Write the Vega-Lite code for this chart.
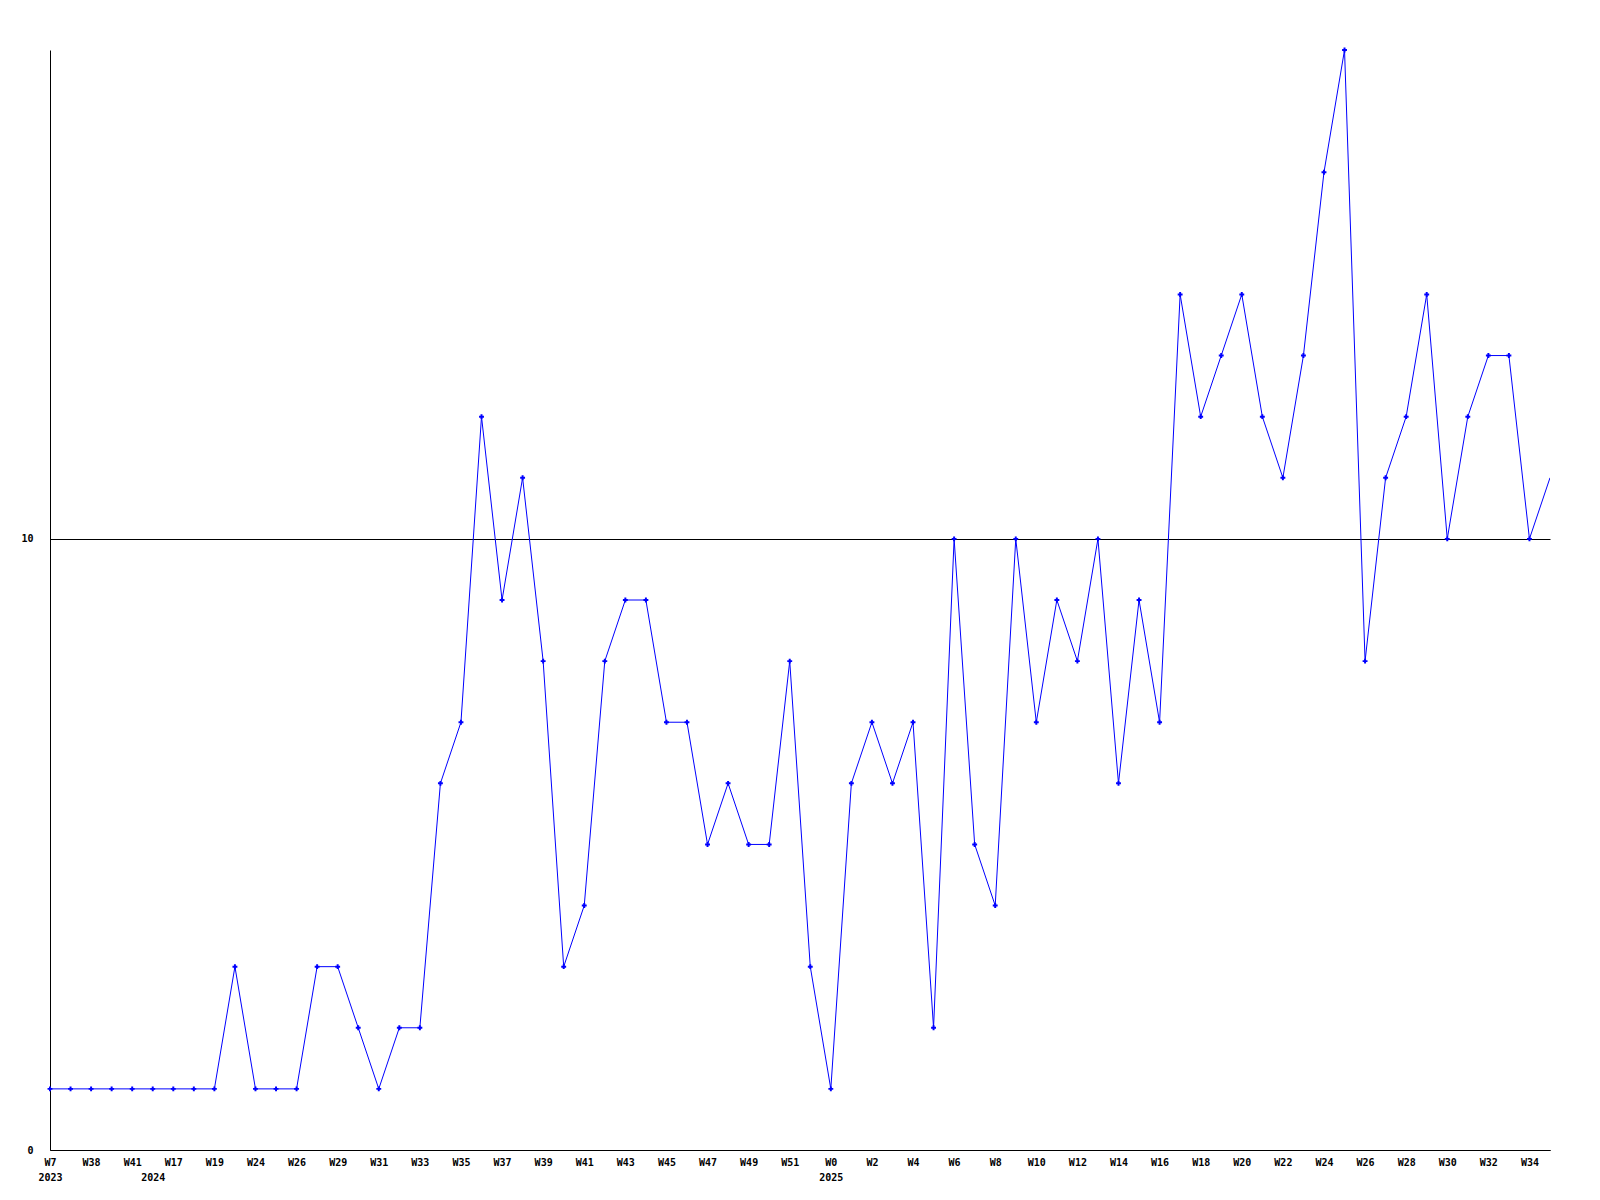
{
  "$schema": "https://vega.github.io/schema/vega-lite/v6.json",
  "width": 1500,
  "height": 1100,
  "autosize": {"type": "none"},
  "padding": {"left": 50, "top": 50, "right": 50, "bottom": 50},
  "background": "white",
  "config": {
    "view": {"stroke": null},
    "axis": {"labelFont": "DejaVu Sans Mono", "labelFontWeight": "bold", "labelFontSize": 10, "labelColor": "black", "domainColor": "black", "domainWidth": 1, "ticks": false, "title": null}
  },
  "data": {"values": [
    {"wk": "2023-W7", "v": 1}, {"wk": "2023-W37", "v": 1}, {"wk": "2023-W38", "v": 1}, {"wk": "2023-W40", "v": 1}, {"wk": "2023-W41", "v": 1},
    {"wk": "2024-W16", "v": 1}, {"wk": "2024-W17", "v": 1}, {"wk": "2024-W18", "v": 1}, {"wk": "2024-W19", "v": 1}, {"wk": "2024-W20", "v": 3},
    {"wk": "2024-W24", "v": 1}, {"wk": "2024-W25", "v": 1}, {"wk": "2024-W26", "v": 1}, {"wk": "2024-W27", "v": 3}, {"wk": "2024-W29", "v": 3},
    {"wk": "2024-W30", "v": 2}, {"wk": "2024-W31", "v": 1}, {"wk": "2024-W32", "v": 2}, {"wk": "2024-W33", "v": 2}, {"wk": "2024-W34", "v": 6},
    {"wk": "2024-W35", "v": 7}, {"wk": "2024-W36", "v": 12}, {"wk": "2024-W37", "v": 9}, {"wk": "2024-W38", "v": 11}, {"wk": "2024-W39", "v": 8},
    {"wk": "2024-W40", "v": 3}, {"wk": "2024-W41", "v": 4}, {"wk": "2024-W42", "v": 8}, {"wk": "2024-W43", "v": 9}, {"wk": "2024-W44", "v": 9},
    {"wk": "2024-W45", "v": 7}, {"wk": "2024-W46", "v": 7}, {"wk": "2024-W47", "v": 5}, {"wk": "2024-W48", "v": 6}, {"wk": "2024-W49", "v": 5},
    {"wk": "2024-W50", "v": 5}, {"wk": "2024-W51", "v": 8}, {"wk": "2024-W52", "v": 3},
    {"wk": "2025-W0", "v": 1}, {"wk": "2025-W1", "v": 6}, {"wk": "2025-W2", "v": 7}, {"wk": "2025-W3", "v": 6}, {"wk": "2025-W4", "v": 7},
    {"wk": "2025-W5", "v": 2}, {"wk": "2025-W6", "v": 10}, {"wk": "2025-W7", "v": 5}, {"wk": "2025-W8", "v": 4}, {"wk": "2025-W9", "v": 10},
    {"wk": "2025-W10", "v": 7}, {"wk": "2025-W11", "v": 9}, {"wk": "2025-W12", "v": 8}, {"wk": "2025-W13", "v": 10}, {"wk": "2025-W14", "v": 6},
    {"wk": "2025-W15", "v": 9}, {"wk": "2025-W16", "v": 7}, {"wk": "2025-W17", "v": 14}, {"wk": "2025-W18", "v": 12}, {"wk": "2025-W19", "v": 13},
    {"wk": "2025-W20", "v": 14}, {"wk": "2025-W21", "v": 12}, {"wk": "2025-W22", "v": 11}, {"wk": "2025-W23", "v": 13}, {"wk": "2025-W24", "v": 16},
    {"wk": "2025-W25", "v": 18}, {"wk": "2025-W26", "v": 8}, {"wk": "2025-W27", "v": 11}, {"wk": "2025-W28", "v": 12}, {"wk": "2025-W29", "v": 14},
    {"wk": "2025-W30", "v": 10}, {"wk": "2025-W31", "v": 12}, {"wk": "2025-W32", "v": 13}, {"wk": "2025-W33", "v": 13}, {"wk": "2025-W34", "v": 10},
    {"wk": "2025-W35", "v": 11}
  ]},
  "encoding": {
    "x": {
      "field": "wk", "type": "ordinal", "sort": null,
      "scale": {"type": "point", "padding": 0},
      "axis": {
        "values": ["2023-W7", "2023-W38", "2023-W41", "2024-W16", "2024-W17", "2024-W19", "2024-W24", "2024-W26", "2024-W29", "2024-W31", "2024-W33", "2024-W35", "2024-W37", "2024-W39", "2024-W41", "2024-W43", "2024-W45", "2024-W47", "2024-W49", "2024-W51", "2025-W0", "2025-W2", "2025-W4", "2025-W6", "2025-W8", "2025-W10", "2025-W12", "2025-W14", "2025-W16", "2025-W18", "2025-W20", "2025-W22", "2025-W24", "2025-W26", "2025-W28", "2025-W30", "2025-W32", "2025-W34"],
        "labelExpr": "datum.value == '2023-W7' ? ['W7', '2023'] : datum.value == '2024-W16' ? ['', '2024'] : datum.value == '2025-W0' ? ['W0', '2025'] : split(datum.value, '-')[1]",
        "labelAngle": 0, "labelAlign": "center", "labelBaseline": "top", "labelPadding": 7, "labelLineHeight": 15, "labelOverlap": false, "grid": false
      }
    },
    "y": {
      "field": "v", "type": "quantitative",
      "scale": {"domain": [0, 18], "nice": false, "zero": true},
      "axis": {"values": [0, 10], "grid": true, "gridColor": "black", "gridOpacity": 1, "gridWidth": 1, "labelPadding": 17}
    }
  },
  "layer": [
    {"mark": {"type": "line", "color": "#0000FF", "strokeWidth": 1, "clip": true}},
    {
      "transform": [{"filter": "datum.wk != '2025-W35'"}],
      "mark": {"type": "point", "shape": "cross", "filled": true, "size": 24, "color": "#0000FF", "opacity": 1}
    }
  ]
}
